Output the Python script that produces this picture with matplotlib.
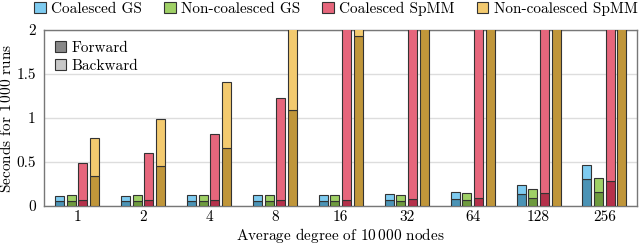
import numpy as np
import matplotlib
matplotlib.use("Agg")
import matplotlib.pyplot as plt
from matplotlib.patches import Patch

plt.rcParams['font.family'] = 'cmr10'
plt.rcParams['mathtext.fontset'] = 'cm'
plt.rcParams['axes.formatter.use_mathtext'] = True
plt.rcParams['font.size'] = 11

# data (seconds for 1000 runs), forward part and total
degrees = ['1', '2', '4', '8', '16', '32', '64', '128', '256']
series = ['Coalesced GS', 'Non-coalesced GS', 'Coalesced SpMM', 'Non-coalesced SpMM']

gs_c_fwd = [0.053, 0.053, 0.055, 0.055, 0.057, 0.065, 0.080, 0.133, 0.307]
gs_c_tot = [0.117, 0.117, 0.120, 0.125, 0.125, 0.136, 0.155, 0.240, 0.462]
gs_n_fwd = [0.053, 0.053, 0.053, 0.055, 0.057, 0.060, 0.068, 0.087, 0.155]
gs_n_tot = [0.120, 0.125, 0.120, 0.125, 0.125, 0.130, 0.150, 0.190, 0.315]
sp_c_fwd = [0.065, 0.065, 0.065, 0.065, 0.070, 0.076, 0.090, 0.148, 0.280]
sp_c_tot = [0.490, 0.600, 0.815, 1.224, 2.60, 3.20, 4.00, 5.00, 6.00]
sp_n_fwd = [0.345, 0.450, 0.655, 1.090, 1.930, 2.60, 3.20, 4.00, 5.00]
sp_n_tot = [0.776, 0.990, 1.405, 2.30, 2.50, 3.40, 4.20, 5.20, 6.50]

fwd = [gs_c_fwd, gs_n_fwd, sp_c_fwd, sp_n_fwd]
tot = [gs_c_tot, gs_n_tot, sp_c_tot, sp_n_tot]

light = ['#7ecbf0', '#9fd066', '#e6667c', '#f3ca6f']
dark = ['#4b93b5', '#6e9a3e', '#b5314b', '#c0963a']

fig = plt.figure(figsize=(6.4, 2.44), dpi=100)
ax = fig.add_axes([0.069, 0.156, 0.927, 0.721])

x = np.arange(len(degrees))
width = 0.136
pitch = 0.177
offsets = (np.arange(4) - 1.5) * pitch

for i in range(4):
    f = np.array(fwd[i])
    t = np.array(tot[i])
    ax.bar(x + offsets[i], f, width, color=dark[i], edgecolor='#333333',
           linewidth=0.8, zorder=3)
    ax.bar(x + offsets[i], t - f, width, bottom=f, color=light[i],
           edgecolor='#333333', linewidth=0.8, zorder=3)

ax.set_xlim(-0.5, len(degrees) - 0.5)
ax.set_ylim(0, 2)
ax.set_xticks(x)
ax.set_xticklabels(degrees)
ax.set_yticks([0, 0.5, 1, 1.5, 2])
ax.set_yticklabels(['0', '0.5', '1', '1.5', '2'])
ax.tick_params(axis='x', length=0, pad=3)
ax.tick_params(axis='y', length=0, pad=6)
ax.yaxis.grid(True, color='#dddddd', linewidth=1, zorder=0)
ax.set_axisbelow(True)
for s in ax.spines.values():
    s.set_color('#777777')
    s.set_linewidth(1)

ax.set_ylabel(r'Seconds for $1\,000$ runs')
ax.yaxis.set_label_coords(-0.05, 0.5)
ax.set_xlabel(r'Average degree of $10\,000$ nodes')
ax.xaxis.set_label_coords(0.5, -0.115)

handles = [Patch(facecolor=light[i], edgecolor='#333333', linewidth=0.8)
           for i in range(4)]
fig.legend(handles, series, loc='upper center', bbox_to_anchor=(0.525, 1.05),
           ncol=4, frameon=False, handlelength=0.75, handleheight=0.75,
           handletextpad=0.35, columnspacing=1.45)

h2 = [Patch(facecolor='#888888', edgecolor='#333333', linewidth=0.8),
      Patch(facecolor='#c8c8c8', edgecolor='#333333', linewidth=0.8)]
ax.legend(h2, ['Forward', 'Backward'], loc='upper left', frameon=False,
          handlelength=0.75, handleheight=0.75, handletextpad=0.35,
          borderaxespad=0.3, labelspacing=0.3)

fig.savefig('out.png', dpi=100)
